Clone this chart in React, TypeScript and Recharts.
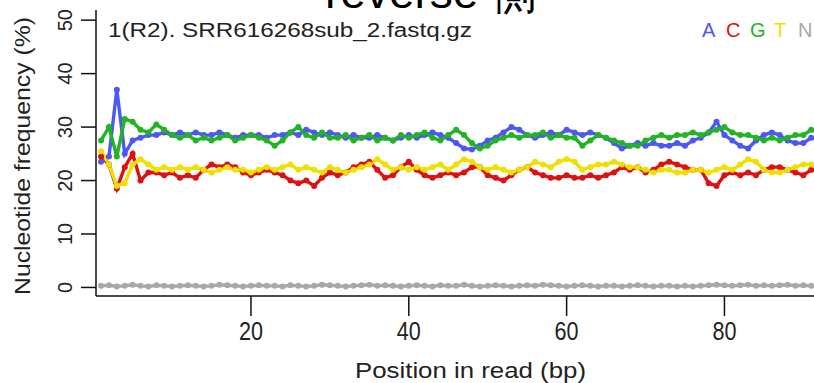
import React from "react";
import { Line, LineChart, XAxis, YAxis } from "recharts";

// read positions 1..92 (the plot is cropped at the right edge)
const positions = Array.from({ length: 92 }, (_, i) => i + 1);

const freqA = [
  23.5, 24.5, 37, 25, 27.5, 28, 28.5, 28.5, 29, 28.5,
  29, 28.5, 29, 28.5, 28.5, 29, 28.5, 28, 28.5, 28.5,
  28.5, 28, 28.5, 28.5, 29, 28.5, 29.5, 29, 28.5, 29,
  28.5, 28, 28.5, 28, 28, 28.5, 28, 27.5, 28, 28.5,
  28, 28.5, 29, 28.5, 28, 27, 26, 25.8, 26.5, 27.5,
  28, 29, 30, 29.5, 28.5, 28, 28.5, 29, 28.5, 29.5,
  29, 28.5, 29, 28.5, 28, 27, 26, 26.5, 27, 26.5,
  27, 26.5, 26.5, 27, 26.5, 27.5, 28, 29, 31, 28.5,
  27.5, 26.5, 26, 27.5, 28.5, 29, 28.5, 27.5, 27, 27, 28, 28,
];
const freqC = [
  24.5, 23, 18.5, 22.5, 25, 20, 21.5, 21.5, 21, 21.5,
  20.5, 21, 20.5, 22, 23, 22.5, 23, 22.5, 21.5, 21,
  21.5, 22, 21.5, 21, 20, 19.5, 20, 19, 20.5, 21.5,
  21, 21.5, 22.5, 23, 23.5, 22, 20.5, 21, 22.5, 23.5,
  22, 21, 20.5, 21, 21.5, 21, 21.5, 22.5, 22.5, 21,
  20.5, 20, 21, 22, 22.5, 21.5, 21, 20.5, 20.5, 21,
  20.5, 20.5, 21, 20.5, 21, 21.5, 22.5, 22, 22.5, 21.5,
  22, 23, 23.5, 23, 22.5, 22, 22, 19.5, 19, 21,
  21.5, 21, 21.5, 21, 22, 22.5, 22.5, 22, 21.5, 21, 22, 22,
];
const freqG = [
  27.5, 30, 24.5, 31.5, 31, 29.5, 29, 30.5, 29.5, 28.5,
  28, 28.5, 27.5, 28, 27.5, 28, 28.5, 27.5, 28, 28.5,
  28, 27.5, 26.5, 27.5, 29, 30, 28.5, 28, 29, 28,
  28, 28.5, 27.5, 28, 28.5, 27.5, 28, 27.5, 28.5, 28,
  28.5, 29, 28, 27.5, 28.5, 29.5, 28.5, 27, 26, 26.5,
  27.5, 28, 28.5, 28, 28.5, 28.5, 29, 28, 28.5, 28,
  28, 26.5, 27.5, 28.5, 28, 27.5, 27, 26.5, 26.5, 27.5,
  28, 28.5, 28, 28.5, 28.5, 29, 28.5, 29, 29.5, 30,
  29, 28.5, 28.5, 28, 27.5, 28, 27.5, 28, 28.5, 28.5, 29.5, 29,
];
const freqT = [
  25.5, 23, 19, 19.5, 23, 24, 23, 22, 22.5, 22,
  22.5, 22, 22.5, 22, 21.5, 22, 22.5, 22, 22, 21.5,
  22, 22.5, 22, 22.5, 23, 22, 22.5, 22, 21.5, 22.5,
  22, 21.5, 22, 22.5, 23, 24, 23, 22, 22.5, 22,
  22.5, 22, 22.5, 23, 22, 23, 24, 23.5, 22.5, 22,
  22.5, 22, 21.5, 22, 22.5, 23.5, 23, 22.5, 23.5, 24,
  23.5, 22, 22.5, 23, 23, 23.5, 23, 22.5, 22.5, 22,
  21.5, 22, 22, 21.5, 21.5, 22, 22, 21.5, 22, 22.5,
  22, 23, 24, 23.5, 22, 21.5, 21.5, 22, 22.5, 23, 23, 22.5,
];
const freqN = [
  0.3, 0.4, 0.2, 0.3, 0.5, 0.3, 0.2, 0.4, 0.3, 0.2,
  0.3, 0.4, 0.3, 0.2, 0.3, 0.5, 0.4, 0.3, 0.2, 0.3,
  0.4, 0.3, 0.3, 0.2, 0.4, 0.3, 0.2, 0.3, 0.5, 0.4,
  0.3, 0.2, 0.3, 0.4, 0.5, 0.3, 0.4, 0.3, 0.2, 0.3,
  0.4, 0.3, 0.2, 0.4, 0.3, 0.3, 0.5, 0.3, 0.2, 0.3,
  0.4, 0.3, 0.2, 0.3, 0.4, 0.3, 0.5, 0.4, 0.3, 0.2,
  0.3, 0.4, 0.3, 0.2, 0.3, 0.3, 0.2, 0.3, 0.4, 0.3,
  0.2, 0.3, 0.3, 0.2, 0.3, 0.2, 0.3, 0.4, 0.5, 0.4,
  0.3, 0.4, 0.5, 0.3, 0.4, 0.3, 0.4, 0.5, 0.3, 0.4, 0.3, 0.4,
];

const bases = ["A", "C", "G", "T", "N"];
const baseColors = ["#4d57f2", "#dd1111", "#22b422", "#eee000", "#a8a8a8"];
const xTicks = [20, 40, 60, 80];
const yTicks = [0, 10, 20, 30, 40, 50];

const chartTitle = "reverse 側";
const fileLabel = "1(R2). SRR616268sub_2.fastq.gz";
const xTitle = "Position in read (bp)";
const yTitle = "Nucleotide frequency (%)";

const W = 814;
const H = 383;
const FONT = "'Liberation Sans', Arial, sans-serif";

const series = [freqA, freqC, freqG, freqT, freqN];
const data = positions.map((pos, i) => {
  const row: Record<string, number> = { pos };
  bases.forEach((b, k) => {
    row[b] = series[k][i];
  });
  return row;
});

function YTick(props: any) {
  const { x, y, payload } = props;
  const bx = x - 7;
  return (
    <text
      x={bx}
      y={y}
      transform={`rotate(-90, ${bx}, ${y})`}
      textAnchor="middle"
      fontSize={20}
      fontFamily={FONT}
      fill="#222"
    >
      {payload.value}
    </text>
  );
}

function XTick(props: any) {
  const { x, y, payload } = props;
  return (
    <text
      x={x - 12}
      y={y + 22}
      fontSize={25}
      fontFamily={FONT}
      fill="#222"
      textLength={24}
      lengthAdjust="spacingAndGlyphs"
    >
      {payload.value}
    </text>
  );
}

export default function App() {
  return (
    <div style={{ position: "absolute", left: 0, top: 0, width: W, height: H, background: "#fff", overflow: "hidden" }}>
      <LineChart width={W} height={H} data={data} margin={{ top: 10, right: 0, bottom: 0, left: 0 }}>
        <XAxis
          dataKey="pos"
          type="number"
          domain={[0.36, 91.35]}
          allowDataOverflow
          ticks={xTicks}
          tickSize={20}
          height={87}
          tick={<XTick />}
          stroke="#111"
          strokeWidth={1.5}
        />
        <XAxis
          xAxisId="top"
          orientation="top"
          dataKey="pos"
          type="number"
          domain={[0.36, 91.35]}
          allowDataOverflow
          height={0}
          tick={false}
          tickLine={false}
          stroke="#111"
          strokeWidth={1.5}
        />
        <YAxis
          type="number"
          domain={[-1.6, 51.9]}
          allowDataOverflow
          ticks={yTicks}
          tickSize={15}
          width={96}
          tick={<YTick />}
          stroke="#111"
          strokeWidth={1.5}
        />
        {bases.map((b, k) => (
          <Line
            key={b}
            dataKey={b}
            type="linear"
            stroke={baseColors[k]}
            strokeWidth={3.4}
            dot={{ r: 3, fill: baseColors[k], stroke: baseColors[k], strokeWidth: 0 }}
            isAnimationActive={false}
          />
        ))}
      </LineChart>
      <svg
        width={W}
        height={H}
        style={{ position: "absolute", left: 0, top: 0, pointerEvents: "none" }}
      >
        <text x={325} y={8} fontSize={46} fontFamily={FONT} fill="#000">
          {chartTitle}
        </text>
        <text x={108} y={37} fontSize={20} fontFamily={FONT} fill="#222" textLength={364} lengthAdjust="spacingAndGlyphs">
          {fileLabel}
        </text>
        {bases.map((b, k) => (
          <text key={b} x={702 + k * 24} y={37} fontSize={20} fontFamily={FONT} fill={baseColors[k]}>
            {b}
          </text>
        ))}
        <text x={355} y={378} fontSize={22} fontFamily={FONT} fill="#222" textLength={231} lengthAdjust="spacingAndGlyphs">
          {xTitle}
        </text>
        <text
          x={30}
          y={295}
          transform="rotate(-90, 30, 295)"
          fontSize={22}
          fontFamily={FONT}
          fill="#222"
          textLength={278}
          lengthAdjust="spacingAndGlyphs"
        >
          {yTitle}
        </text>
      </svg>
    </div>
  );
}
